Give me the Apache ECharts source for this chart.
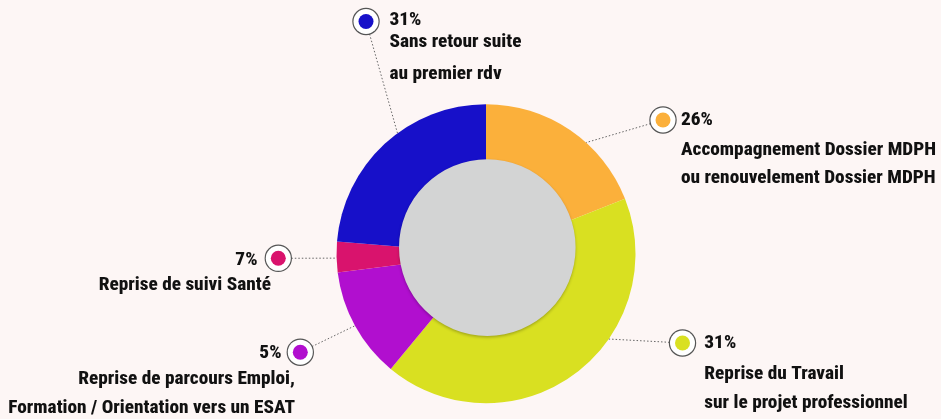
<!DOCTYPE html>
<html>
<head>
<meta charset="utf-8">
<script src="https://cdn.jsdelivr.net/npm/echarts@6/dist/echarts.min.js"></script>
<style>
  html, body { margin: 0; padding: 0; background: #fdf6f5; }
  #chart { width: 941px; height: 419px; }
</style>
</head>
<body>
<div id="chart"></div>
<script>
// data, clockwise from 12 o'clock
var categories = [
    'Accompagnement Dossier MDPH\nou renouvelement Dossier MDPH',
    'Reprise du Travail\nsur le projet professionnel',
    'Reprise de parcours Emploi,\nFormation / Orientation vers un ESAT',
    'Reprise de suivi Santé',
    'Sans retour suite\nau premier rdv'
];
var sliceValues = [19, 42, 12, 3.3, 23.7];
var percentLabels = ['26%', '31%', '5%', '7%', '31%'];
var colors = ['#fbb03b', '#d9e021', '#b10fcf', '#d9136d', '#1710c9'];

// layout of the callouts (pixels)
var CX = 486, CY = 253.7, R = 149.5;
var callouts = [
    {marker: [663, 120],     lineAngle: 42,    text: [681, 120],     align: 'left',  pctLH: 32, descLH: 28},
    {marker: [682.5, 343],   lineAngle: 124.8, text: [704.3, 343.3], align: 'left',  pctLH: 32, descLH: 29},
    {marker: [300.3, 352.2], lineAngle: 241.2, text: [295, 352.8],   align: 'right', pctLH: 23, descLH: 29},
    {marker: [278.3, 258.3], lineAngle: 268.3, text: [271, 260],     align: 'right', pctLH: 21, descLH: 29},
    {marker: [366, 21.5],    lineAngle: 323.7, text: [389.5, 20],    align: 'left',  pctLH: 12, descLH: 32}
];

// the original uses a tall condensed bold face: pick the installed one that
// fits the measured line width at a size closest to the original's
var WEIGHT = '800';
function pickFont() {
    var sample = 'Accompagnement Dossier MDPH';
    var cands = [
        ['normal', "'Liberation Sans Narrow'"],
        ['normal', "'Noto Sans ExtraCondensed'"],
        ['extra-condensed', "'Noto Sans'"],
        ['normal', "'Noto Sans Condensed'"],
        ['condensed', "'Noto Sans'"],
        ['normal', "'DejaVu Sans Condensed'"],
        ['condensed', "'DejaVu Sans'"],
        ['normal', "'Roboto Condensed'"],
        ['condensed', "'Roboto'"],
        ['condensed', "'Open Sans'"],
        ['normal', "'Liberation Sans'"]
    ];
    var ctx = document.createElement('canvas').getContext('2d');
    var best = null;
    cands.forEach(function (c) {
        ctx.font = '10px serif';
        ctx.font = c[0] + ' ' + WEIGHT + ' 20px ' + c[1] + ', sans-serif';
        if (ctx.font === '10px serif') return;
        var w = ctx.measureText(sample).width;
        var size = 20 * 255 / w;
        var score = Math.abs(size - 21.5);
        if (!best || score < best.score - 0.05) best = {style: c[0], family: c[1], size: size, score: score};
    });
    if (!best) best = {style: 'normal', family: "'Liberation Sans'", size: 17};
    best.size = Math.min(23, best.size);
    return best;
}
var font = pickFont();
var FONT = font.family + ', sans-serif';

var chartDom = document.getElementById('chart');
var chart = echarts.init(chartDom);

var pieData = [];
var markerRich = {};
var textRich = {};
for (var i = 0; i < sliceValues.length; i++) {
    pieData.push({name: categories[i], value: sliceValues[i], itemStyle: {color: colors[i]}});
    markerRich['m' + i] = {width: 15, height: 15, borderRadius: 7.5, backgroundColor: colors[i]};
    textRich['p' + i] = {
        fontFamily: FONT, fontStyle: font.style, fontSize: font.size, fontWeight: WEIGHT, color: '#111',
        lineHeight: callouts[i].pctLH,
        padding: callouts[i].align === 'right' ? [0, 13.5, 0, 0] : 0
    };
    textRich['d' + i] = {
        fontFamily: FONT, fontStyle: font.style, fontSize: font.size, fontWeight: WEIGHT, color: '#111',
        lineHeight: callouts[i].descLH
    };
}

function leaderPoints(c) {
    var a = c.lineAngle * Math.PI / 180;
    var px = CX + R * Math.sin(a), py = CY - R * Math.cos(a);
    var dx = px - c.marker[0], dy = py - c.marker[1];
    var len = Math.sqrt(dx * dx + dy * dy);
    var sx = c.marker[0] + 13 * dx / len, sy = c.marker[1] + 13 * dy / len;
    return [[sx, sy], [(sx + px) / 2, (sy + py) / 2], [px, py]];
}

var option = {
    backgroundColor: '#fdf6f5',
    animation: false,
    series: [
        {
            type: 'pie',
            center: [CX, CY],
            radius: [0, R],
            startAngle: 90,
            clockwise: true,
            avoidLabelOverlap: false,
            silent: true,
            data: pieData,
            label: {
                show: true,
                position: 'outside',
                formatter: function (p) { return '{m' + p.dataIndex + '|}'; },
                backgroundColor: '#ffffff',
                borderColor: '#555',
                borderWidth: 1.2,
                borderRadius: 14,
                padding: 5,
                rich: markerRich
            },
            labelLine: {
                show: true,
                lineStyle: {color: '#666', width: 1, type: [1.5, 2]}
            },
            labelLayout: function (params) {
                var c = callouts[params.dataIndex];
                return {
                    x: c.marker[0], y: c.marker[1],
                    align: 'center', verticalAlign: 'middle',
                    labelLinePoints: leaderPoints(c)
                };
            }
        },
        {
            type: 'pie',
            center: [487.3, 247.6],
            radius: [0, 88.3],
            silent: true,
            label: {show: false},
            labelLine: {show: false},
            itemStyle: {
                color: '#d3d4d4',
                shadowBlur: 3,
                shadowOffsetY: 1.5,
                shadowColor: 'rgba(0,0,0,0.25)'
            },
            data: [{value: 1, name: 'centre'}]
        },
        {
            type: 'pie',
            center: [CX, CY],
            radius: [0, R],
            startAngle: 90,
            clockwise: true,
            avoidLabelOverlap: false,
            silent: true,
            z: 5,
            itemStyle: {color: 'rgba(0,0,0,0)'},
            data: pieData.map(function (d) { return {name: d.name, value: d.value}; }),
            label: {
                show: true,
                position: 'outside',
                formatter: function (p) {
                    var k = p.dataIndex;
                    var lines = categories[k].split('\n').map(function (s) { return '{d' + k + '|' + s + '}'; });
                    return '{p' + k + '|' + percentLabels[k] + '}\n' + lines.join('\n');
                },
                rich: textRich
            },
            labelLine: {show: false},
            labelLayout: function (params) {
                var c = callouts[params.dataIndex];
                return {
                    x: c.text[0], y: c.text[1] - c.pctLH / 2,
                    align: c.align, verticalAlign: 'top'
                };
            }
        }
    ]
};

chart.setOption(option);
</script>
</body>
</html>
